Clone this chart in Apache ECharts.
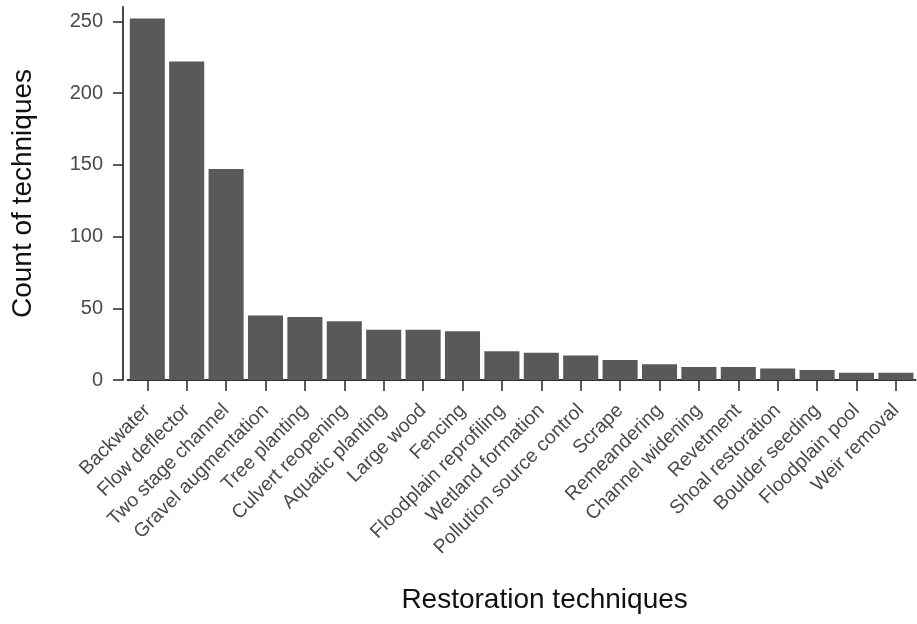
<!DOCTYPE html>
<html>
<head>
<meta charset="utf-8">
<script src="https://cdn.jsdelivr.net/npm/echarts@6/dist/echarts.min.js"></script>
<style>
html,body{margin:0;padding:0;background:#fff;}
#chart{width:917px;height:624px;}
</style>
</head>
<body>
<div id="chart"></div>
<script>
const categories = ["Backwater","Flow deflector","Two stage channel","Gravel augmentation","Tree planting","Culvert reopening","Aquatic planting","Large wood","Fencing","Floodplain reprofiling","Wetland formation","Pollution source control","Scrape","Remeandering","Channel widening","Revetment","Shoal restoration","Boulder seeding","Floodplain pool","Weir removal"];
const counts = [252, 222, 147, 45, 44, 41, 35, 35, 34, 20, 19, 17, 14, 11, 9, 9, 8, 7, 5, 5];
const yTicks = [0, 50, 100, 150, 200, 250];

const chart = echarts.init(document.getElementById('chart'), null, {renderer: 'canvas'});
const font = 'Liberation Sans, Arial, Helvetica, sans-serif';
chart.setOption({
  animation: false,
  backgroundColor: '#ffffff',
  grid: {left: 127.6, right: 1.4, top: 7, bottom: 244, containLabel: false},
  xAxis: {
    type: 'category',
    data: categories,
    offset: 3.5,
    name: 'Restoration techniques',
    nameLocation: 'middle',
    nameGap: 203,
    nameTextStyle: {fontFamily: font, fontSize: 28, color: '#111', padding: [0, 0, 0, 46]},
    axisLine: {show: true, lineStyle: {color: '#333', width: 1.8}},
    axisTick: {show: true, alignWithLabel: true, length: 11, lineStyle: {color: '#333', width: 1.6}},
    axisLabel: {rotate: 45, interval: 0, margin: 24, fontFamily: font, fontSize: 19.5, color: '#4a4a4a'},
    splitLine: {show: false}
  },
  yAxis: {
    type: 'value',
    min: 0,
    max: 260,
    offset: 4.6,
    name: 'Count of techniques',
    nameLocation: 'middle',
    nameGap: 86,
    nameRotate: 90,
    nameTextStyle: {fontFamily: font, fontSize: 28, color: '#111'},
    axisLine: {show: true, lineStyle: {color: '#333', width: 1.8}},
    axisTick: {show: true, length: 10, customValues: yTicks, lineStyle: {color: '#333', width: 1.6}},
    axisLabel: {margin: 20, fontFamily: font, fontSize: 20, color: '#4a4a4a', customValues: yTicks},
    splitLine: {show: false}
  },
  series: [{
    type: 'bar',
    data: counts,
    barCategoryGap: '11%',
    itemStyle: {color: '#595959'}
  }]
});
</script>
</body>
</html>
